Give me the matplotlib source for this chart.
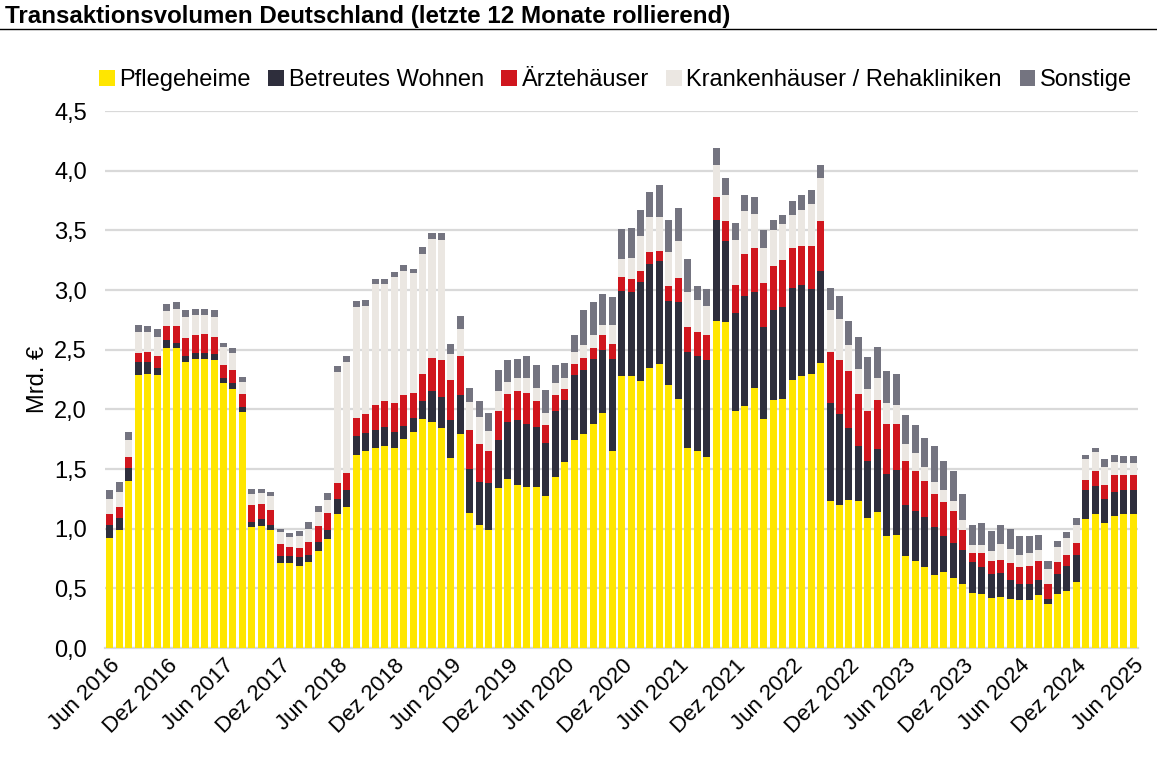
import numpy as np
import matplotlib
matplotlib.use("Agg")
import matplotlib.pyplot as plt
from matplotlib.patches import Patch

plt.rcParams['font.family'] = ['Liberation Sans', 'DejaVu Sans']

# monatliche Werte, Jun 2016 - Jun 2025 (Mrd. EUR, 12 Monate rollierend)
pflegeheime = [
    0.92, 0.99, 1.40, 2.29, 2.30, 2.29, 2.51, 2.51, 2.40, 2.42, 2.42, 2.41,
    2.22, 2.17, 1.98, 1.01, 1.02, 0.99, 0.71, 0.71, 0.69, 0.72, 0.81, 0.91,
    1.12, 1.18, 1.62, 1.65, 1.68, 1.69, 1.68, 1.75, 1.81, 1.92, 1.89, 1.84,
    1.59, 1.79, 1.13, 1.03, 0.99, 1.34, 1.42, 1.37, 1.35, 1.35, 1.27, 1.43,
    1.56, 1.74, 1.79, 1.88, 1.97, 1.65, 2.28, 2.28, 2.24, 2.35, 2.38, 2.20,
    2.09, 1.68, 1.65, 1.60, 2.74, 2.73, 1.99, 2.03, 2.18, 1.92, 2.08, 2.09,
    2.25, 2.28, 2.30, 2.39, 1.23, 1.20, 1.24, 1.23, 1.09, 1.14, 0.94, 0.95,
    0.77, 0.73, 0.68, 0.61, 0.64, 0.59, 0.54, 0.46, 0.45, 0.42, 0.43, 0.41,
    0.40, 0.40, 0.44, 0.37, 0.45, 0.48, 0.55, 1.08, 1.12, 1.05, 1.11, 1.12,
    1.12]
betreutes_wohnen = [
    0.11, 0.10, 0.11, 0.11, 0.10, 0.06, 0.07, 0.05, 0.05, 0.05, 0.05, 0.05,
    0.04, 0.05, 0.04, 0.05, 0.06, 0.04, 0.06, 0.06, 0.07, 0.06, 0.08, 0.08,
    0.13, 0.14, 0.16, 0.15, 0.15, 0.16, 0.13, 0.11, 0.12, 0.15, 0.26, 0.26,
    0.32, 0.33, 0.37, 0.36, 0.39, 0.40, 0.47, 0.54, 0.53, 0.50, 0.45, 0.56,
    0.52, 0.55, 0.54, 0.54, 0.53, 0.77, 0.71, 0.70, 0.83, 0.87, 0.86, 0.71,
    0.81, 0.80, 0.80, 0.81, 0.85, 0.68, 0.82, 0.92, 0.80, 0.77, 0.75, 0.77,
    0.77, 0.76, 0.71, 0.77, 0.82, 0.76, 0.60, 0.46, 0.48, 0.53, 0.52, 0.54,
    0.43, 0.42, 0.42, 0.40, 0.30, 0.29, 0.28, 0.26, 0.23, 0.20, 0.20, 0.16,
    0.14, 0.14, 0.13, 0.04, 0.17, 0.21, 0.23, 0.24, 0.24, 0.20, 0.20, 0.20,
    0.20]
aerztehaeuser = [
    0.09, 0.09, 0.09, 0.07, 0.08, 0.10, 0.12, 0.14, 0.15, 0.15, 0.16, 0.15,
    0.11, 0.11, 0.11, 0.14, 0.13, 0.13, 0.10, 0.08, 0.08, 0.11, 0.13, 0.14,
    0.13, 0.15, 0.15, 0.16, 0.21, 0.22, 0.24, 0.26, 0.21, 0.23, 0.28, 0.31,
    0.34, 0.33, 0.33, 0.32, 0.27, 0.25, 0.24, 0.24, 0.26, 0.22, 0.15, 0.13,
    0.09, 0.09, 0.10, 0.09, 0.12, 0.13, 0.12, 0.11, 0.09, 0.10, 0.09, 0.12,
    0.20, 0.21, 0.20, 0.21, 0.19, 0.17, 0.23, 0.35, 0.37, 0.37, 0.37, 0.39,
    0.33, 0.33, 0.36, 0.42, 0.43, 0.45, 0.48, 0.44, 0.42, 0.41, 0.42, 0.39,
    0.37, 0.33, 0.30, 0.28, 0.28, 0.27, 0.17, 0.08, 0.12, 0.11, 0.11, 0.14,
    0.14, 0.15, 0.16, 0.13, 0.10, 0.09, 0.10, 0.09, 0.12, 0.12, 0.14, 0.13,
    0.13]
krankenhaeuser = [
    0.13, 0.13, 0.14, 0.18, 0.17, 0.16, 0.12, 0.14, 0.17, 0.17, 0.16, 0.16,
    0.15, 0.14, 0.10, 0.09, 0.09, 0.11, 0.10, 0.08, 0.10, 0.11, 0.12, 0.11,
    0.93, 0.93, 0.93, 0.91, 1.01, 0.98, 1.06, 1.04, 1.00, 1.00, 1.00, 1.01,
    0.21, 0.22, 0.23, 0.23, 0.17, 0.16, 0.10, 0.11, 0.12, 0.11, 0.10, 0.10,
    0.09, 0.10, 0.11, 0.11, 0.09, 0.16, 0.15, 0.18, 0.29, 0.29, 0.28, 0.29,
    0.31, 0.29, 0.27, 0.25, 0.27, 0.22, 0.38, 0.36, 0.29, 0.29, 0.30, 0.30,
    0.28, 0.30, 0.35, 0.36, 0.35, 0.35, 0.22, 0.21, 0.18, 0.18, 0.17, 0.16,
    0.14, 0.15, 0.12, 0.10, 0.10, 0.08, 0.08, 0.06, 0.06, 0.08, 0.13, 0.12,
    0.10, 0.11, 0.09, 0.12, 0.13, 0.14, 0.15, 0.17, 0.16, 0.15, 0.11, 0.10,
    0.10]
sonstige = [
    0.07, 0.08, 0.07, 0.06, 0.05, 0.06, 0.06, 0.06, 0.06, 0.05, 0.05, 0.06,
    0.04, 0.04, 0.04, 0.04, 0.03, 0.04, 0.03, 0.03, 0.04, 0.06, 0.05, 0.06,
    0.05, 0.05, 0.05, 0.05, 0.04, 0.04, 0.04, 0.05, 0.04, 0.06, 0.05, 0.06,
    0.09, 0.11, 0.12, 0.13, 0.15, 0.18, 0.18, 0.16, 0.19, 0.19, 0.19, 0.15,
    0.13, 0.14, 0.29, 0.28, 0.26, 0.23, 0.25, 0.25, 0.22, 0.21, 0.27, 0.27,
    0.28, 0.28, 0.11, 0.14, 0.14, 0.14, 0.14, 0.14, 0.14, 0.15, 0.09, 0.08,
    0.12, 0.13, 0.12, 0.11, 0.19, 0.19, 0.20, 0.27, 0.27, 0.26, 0.27, 0.26,
    0.24, 0.24, 0.24, 0.30, 0.25, 0.25, 0.22, 0.17, 0.19, 0.17, 0.16, 0.17,
    0.16, 0.14, 0.13, 0.07, 0.05, 0.05, 0.06, 0.04, 0.04, 0.06, 0.06, 0.06,
    0.06]

monate = ['Jan', 'Feb', 'Mär', 'Apr', 'Mai', 'Jun', 'Jul', 'Aug', 'Sep', 'Okt', 'Nov', 'Dez']
start_jahr, start_monat = 2016, 5  # Jun 2016

serien = [
    ('Pflegeheime', pflegeheime, '#FFE600'),
    ('Betreutes Wohnen', betreutes_wohnen, '#2E2E3C'),
    ('Ärztehäuser', aerztehaeuser, '#D0161E'),
    ('Krankenhäuser / Rehakliniken', krankenhaeuser, '#EBE7E2'),
    ('Sonstige', sonstige, '#747480'),
]

n = len(pflegeheime)
x = np.arange(n)
labels = []
for i in range(n):
    m = start_monat + i
    labels.append(f"{monate[m % 12]} {start_jahr + m // 12}")

fs = 17

fig = plt.figure(figsize=(11.57, 7.62), dpi=100)
ax = fig.add_axes([0.0908, 0.1496, 0.8928, 0.7047])

bottom = np.zeros(n)
for name, vals, col in serien:
    ax.bar(x, vals, width=0.74, bottom=bottom, color=col, label=name, zorder=3)
    bottom += np.array(vals)

ax.set_xlim(-0.5, n - 0.5)
ax.set_ylim(0, 4.5)
ticks = np.arange(0, 4.51, 0.5)
ax.set_yticks(ticks)
ax.set_yticklabels([f"{v:.1f}".replace('.', ',') for v in ticks], fontsize=fs)
ax.yaxis.grid(True, color='#d9d9d9', linewidth=1.6, zorder=0)
ax.tick_params(axis='y', length=0, pad=13)
ax.set_ylabel('Mrd. €', fontsize=fs, labelpad=4)

ax.set_xticks(x[::6])
ax.set_xticklabels(labels[::6], rotation=45, ha='right', rotation_mode='anchor', fontsize=16)
ax.tick_params(axis='x', length=0, pad=5)

for s in ['top', 'right', 'left']:
    ax.spines[s].set_visible(False)
ax.spines['bottom'].set_color('#d9d9d9')
ax.spines['bottom'].set_linewidth(1.6)

handles = [Patch(facecolor=col, label=name) for name, vals, col in serien]
fig.legend(handles=handles, loc='center', bbox_to_anchor=(0.532, 0.895), ncol=5,
           frameon=False, fontsize=fs, handlelength=0.65, handleheight=0.65,
           handletextpad=0.2, columnspacing=0.75, borderpad=0)

fig.text(0.004, 0.978, 'Transaktionsvolumen Deutschland (letzte 12 Monate rollierend)',
         fontsize=17.4, fontweight='bold', ha='left', va='center')
fig.add_artist(plt.Line2D([0, 1], [0.962, 0.962], color='black', linewidth=1))

fig.savefig('out.png', dpi=100)
